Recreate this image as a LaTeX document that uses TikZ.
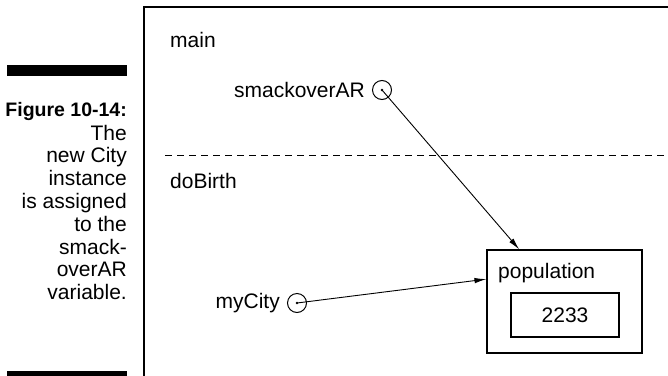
\documentclass[tikz,border=0pt]{standalone}
\usepackage{fontspec}
\setmainfont{Liberation Sans}
\usetikzlibrary{arrows.meta,positioning}
\tikzset{lbl/.style={font=\fontsize{21}{23}\selectfont,inner sep=0pt},
  capt/.style={lbl,anchor=base east},
  varpt/.style={circle,draw,line width=1pt,minimum size=19pt,inner sep=0pt},
  ptr/.style={line width=.9pt,-{Latex[length=12pt,width=5.5pt]}},
  cell/.style={rectangle,draw,line width=1.1pt,inner sep=0pt,font=\fontsize{21}{23}\selectfont}}
\begin{document}
\begin{tikzpicture}[x=1pt,y=-1pt]
\useasboundingbox (0,0) rectangle (668,375);
% caption column
\fill (7,65) rectangle (127,76);
\fill (7,371) rectangle (127,380);
\node[capt,font=\fontsize{19.5}{23}\selectfont\bfseries] (fig) at (127,116) {Figure 10-14:};
\foreach \txt [count=\i from 0] in {The,new City,instance,is assigned,to the,smack-,overAR,variable.}
  \node[capt] (cap\i) at (127,140+22.8*\i) {\txt};
% frames
\draw[line width=1.6pt] (669,7) -| (144,376);
\draw[line width=.8pt,dash pattern=on 7pt off 5pt] (165,155) -- (669,155);
\node[lbl,anchor=base west] (mainlbl) at (170,47) {main};
\node[lbl,anchor=base west] (dobirth) at (170,188) {doBirth};
% variables
\node[varpt] (smackpt) at (382,90) {};
\fill (smackpt.center) circle (1.3pt);
\node[lbl,left=7pt of smackpt] (smack) {smackoverAR};
\node[varpt] (citypt) at (297,303) {};
\fill (citypt.center) circle (1.3pt);
\node[lbl,left=7pt of citypt] (mycity) {myCity};
% the City object
\node[cell,minimum width=155pt,minimum height=103pt] (popbox) at (564.5,301.5) {};
\node[lbl,anchor=base west] (poplbl) at (498,278) {population};
\node[cell,minimum width=108pt,minimum height=44pt] (popval) at (565,315) {2233};
\draw[ptr] (smackpt.center) -- (popbox.131);
\draw[ptr] (citypt.center) -- (popbox.164);
\end{tikzpicture}
\end{document}
